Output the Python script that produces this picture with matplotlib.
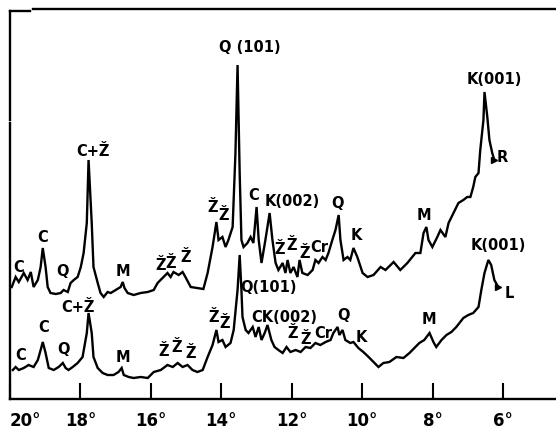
import matplotlib
matplotlib.use("Agg")
import matplotlib.pyplot as plt

# Upper pattern (R): 2-theta (deg) and intensity (arbitrary units)
theta_R = [19.95, 19.84, 19.75, 19.61, 19.50, 19.41, 19.33, 19.21, 19.13, 19.07,
           18.99, 18.93, 18.85, 18.70, 18.56, 18.48, 18.36, 18.28, 18.19, 18.08,
           17.99, 17.91, 17.82, 17.77, 17.68, 17.63, 17.51, 17.43, 17.34, 17.23,
           17.14, 17.00, 16.86, 16.80, 16.75, 16.66, 16.49, 16.29, 16.09, 15.92,
           15.81, 15.67, 15.53, 15.44, 15.36, 15.21, 15.10, 15.02, 14.87, 14.68,
           14.51, 14.39, 14.25, 14.14, 14.08, 13.97, 13.88, 13.80, 13.68, 13.60,
           13.54, 13.48, 13.43, 13.37, 13.26, 13.17, 13.09, 13.00, 12.94, 12.86,
           12.75, 12.63, 12.55, 12.46, 12.38, 12.26, 12.18, 12.12, 12.04, 11.95,
           11.84, 11.78, 11.70, 11.55, 11.41, 11.33, 11.24, 11.13, 11.04, 10.96,
           10.85, 10.76, 10.67, 10.62, 10.53, 10.42, 10.34, 10.25, 10.14, 9.99,
           9.85, 9.68, 9.48, 9.34, 9.11, 8.92, 8.72, 8.49, 8.35, 8.26,
           8.18, 8.12, 8.01, 7.87, 7.78, 7.64, 7.55, 7.41, 7.27, 7.13,
           7.02, 6.93, 6.85, 6.79, 6.70, 6.65, 6.56, 6.53, 6.45, 6.39,
           6.31, 6.25]
int_R = [113, 123, 118, 127, 120, 128, 113, 120, 133, 152,
         133, 113, 107, 106, 107, 110, 108, 117, 120, 123,
         133, 147, 177, 240, 177, 133, 117, 107, 103, 108,
         107, 110, 113, 118, 112, 107, 105, 107, 108, 110,
         117, 122, 127, 123, 128, 125, 128, 123, 113, 112,
         111, 127, 153, 178, 160, 163, 153, 160, 173, 247,
         335, 227, 160, 153, 157, 163, 157, 193, 160, 137,
         160, 187, 160, 137, 130, 137, 127, 140, 127, 133,
         123, 140, 127, 125, 130, 140, 137, 143, 140, 147,
         160, 170, 185, 160, 140, 143, 140, 152, 143, 127,
         123, 125, 133, 130, 138, 130, 137, 147, 147, 167,
         173, 160, 153, 163, 170, 163, 177, 187, 197, 200,
         203, 203, 213, 223, 227, 250, 280, 308, 283, 260,
         247, 240]

# Lower pattern (L)
theta_L = [19.92, 19.84, 19.75, 19.61, 19.47, 19.33, 19.21, 19.13, 19.07, 18.99,
           18.90, 18.76, 18.62, 18.50, 18.42, 18.34, 18.22, 18.08, 17.94, 17.82,
           17.77, 17.68, 17.63, 17.51, 17.37, 17.23, 17.06, 16.92, 16.83, 16.77,
           16.63, 16.49, 16.29, 16.09, 15.92, 15.72, 15.53, 15.38, 15.24, 15.10,
           14.96, 14.82, 14.68, 14.53, 14.39, 14.25, 14.14, 14.08, 13.97, 13.88,
           13.74, 13.65, 13.54, 13.48, 13.43, 13.40, 13.31, 13.23, 13.11, 13.03,
           12.94, 12.86, 12.77, 12.69, 12.58, 12.49, 12.38, 12.26, 12.15, 12.04,
           11.89, 11.75, 11.61, 11.47, 11.33, 11.19, 11.04, 10.90, 10.82, 10.70,
           10.65, 10.56, 10.48, 10.34, 10.25, 10.11, 9.97, 9.82, 9.68, 9.54,
           9.40, 9.23, 9.03, 8.83, 8.66, 8.52, 8.38, 8.24, 8.09, 7.98,
           7.90, 7.75, 7.61, 7.47, 7.33, 7.13, 6.99, 6.85, 6.70, 6.62,
           6.53, 6.42, 6.34, 6.25, 6.14]
int_L = [30, 33, 30, 32, 35, 33, 40, 50, 58, 47,
         32, 30, 33, 37, 32, 30, 33, 37, 43, 67,
         87, 67, 43, 32, 27, 25, 25, 28, 32, 25,
         23, 22, 23, 22, 28, 30, 35, 33, 37, 33,
         35, 30, 28, 30, 43, 55, 70, 58, 60, 53,
         57, 70, 110, 145, 110, 83, 70, 67, 73, 63,
         73, 60, 67, 75, 60, 53, 50, 47, 53, 48,
         50, 48, 53, 52, 57, 55, 58, 60, 67, 73,
         65, 70, 60, 57, 58, 52, 48, 43, 38, 33,
         37, 38, 43, 42, 47, 52, 57, 60, 67, 58,
         53, 60, 65, 68, 73, 82, 85, 87, 93, 110,
         127, 140, 135, 120, 113]

# Phase labels: text, 2-theta, intensity
labels_R = [("C", 19.75, 132), ("C", 19.07, 163), ("Q", 18.50, 128),
            ("C+Ž", 17.65, 248), ("M", 16.80, 128),
            ("Ž", 15.72, 135), ("Ž", 15.44, 137), ("Ž", 15.02, 142),
            ("Ž", 14.25, 192), ("Ž", 13.94, 184),
            ("Q (101)", 13.20, 353), ("C", 13.09, 205), ("K(002)", 11.98, 198),
            ("Ž", 12.35, 150), ("Ž", 12.01, 155), ("Ž", 11.64, 147), ("Cr", 11.21, 153),
            ("Q", 10.70, 197), ("K", 10.16, 164), ("M", 8.24, 185),
            ("K(001)", 6.25, 320), ("R", 6.02, 243)]
labels_L = [("C", 19.70, 45), ("C", 19.04, 73), ("Q", 18.48, 50),
            ("C+Ž", 18.08, 92), ("M", 16.80, 42),
            ("Ž", 15.64, 48), ("Ž", 15.27, 53), ("Ž", 14.87, 47),
            ("Ž", 14.22, 82), ("Ž", 13.91, 77),
            ("Q(101)", 12.66, 113), ("CK(002)", 12.21, 83),
            ("Ž", 11.98, 66), ("Ž", 11.60, 60), ("Cr", 11.10, 67),
            ("Q", 10.53, 85), ("K", 10.02, 63), ("M", 8.12, 80),
            ("K(001)", 6.14, 155), ("L", 5.82, 107)]

x_ticks = [20, 18, 16, 14, 12, 10, 8, 6]

W, H = 556, 434
fig = plt.figure(figsize=(W / 100, H / 100), dpi=100)
ax = fig.add_axes([10 / W, 1 - 399 / H, 546 / W, 390 / H])

ax.plot(theta_R, int_R, color="black", lw=1.7, solid_joinstyle="miter")
ax.plot(theta_L, int_L, color="black", lw=1.7, solid_joinstyle="miter")
# little arrow heads at the end of each trace
ax.plot(theta_R[-1], int_R[-1], marker=">", ms=4, color="black")
ax.plot(theta_L[-1], int_L[-1], marker=">", ms=4, color="black")

for txt, t, v in labels_R + labels_L:
    ax.text(t, v, txt, ha="center", va="center", fontsize=10.5,
            fontweight="bold", color="black")

ax.set_xlim(20.0, 4.5)
ax.set_ylim(1, 391)
ax.set_yticks([])
ax.set_xticks(x_ticks)
ax.set_xticklabels([f"{t}°" for t in x_ticks], fontweight="bold")
ax.get_xticklabels()[0].set_ha("left")
ax.tick_params(axis="x", direction="in", length=11.5, width=1.5, pad=9,
               labelsize=12)

for s in ["top", "right", "left"]:
    ax.spines[s].set_visible(False)
ax.spines["bottom"].set_linewidth(1.7)

# hand drawn frame: broken top line and left line
frame = dict(color="black", lw=1.7, transform=ax.transAxes, clip_on=False)
ax.plot([0.0, 0.037], [0.995, 0.995], **frame)
ax.plot([0.042, 1.0], [1.0, 1.0], **frame)
ax.plot([0.0, 0.0], [0.715, 0.995], **frame)
ax.plot([0.0, 0.0], [0.0, 0.707], **frame)

fig.savefig("out.png", dpi=100)
